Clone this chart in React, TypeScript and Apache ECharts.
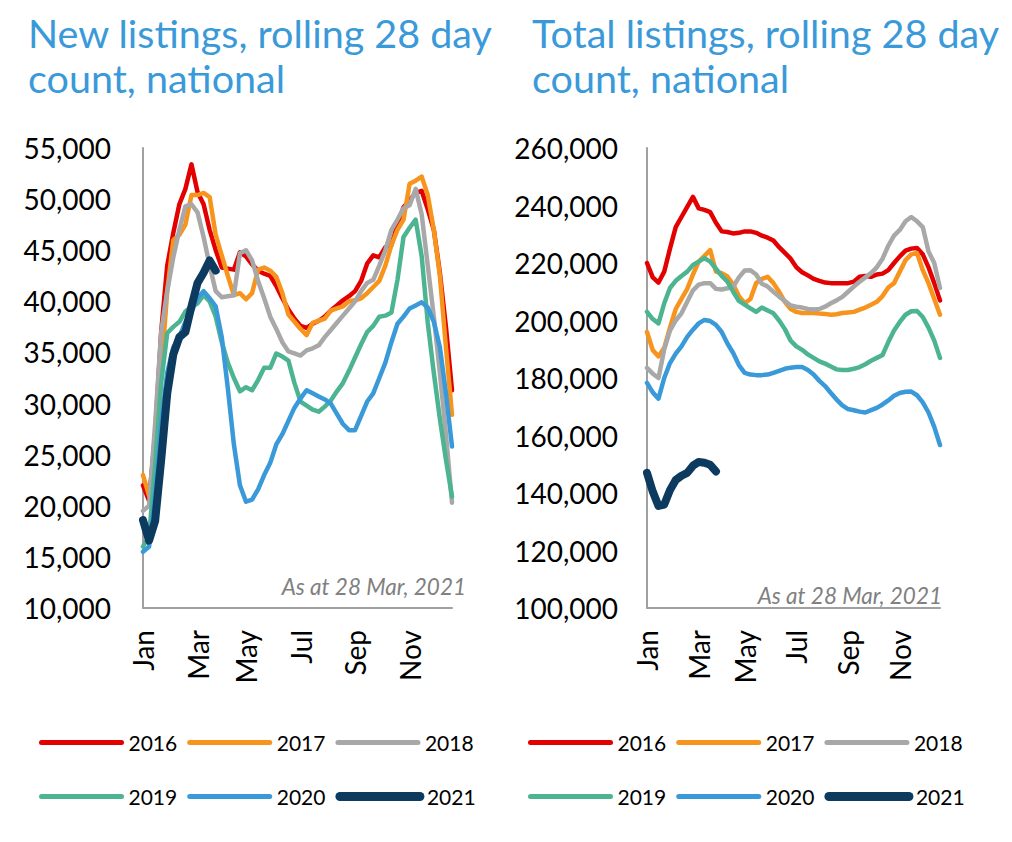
import React, { useEffect, useRef } from "react";
import * as echarts from "echarts";

const years = ["2016", "2017", "2018", "2019", "2020", "2021"];
const colors = ["#E30000", "#F7941D", "#A8A8A8", "#4DB492", "#3A9AD9", "#0D3A5F"];

const weeks = Array.from({ length: 52 }, (_, i) => `W${i + 1}`);
const monthLabels = ["Jan", "Mar", "May", "Jul", "Sep", "Nov"];
const monthTickWeeks = [0, 9, 17, 26, 35, 44];

// New listings, rolling 28 day count (weekly)
const newL2016 = [22000, 20500, 27000, 37000, 43500, 46700, 49500, 51000, 53400, 50700, 49500, 47000, 45000, 43300, 43200, 43100, 44800, 44400, 43600, 43000, 42700, 42500, 41500, 40300, 39200, 38300, 37600, 37400, 37800, 38100, 38500, 39100, 39600, 40100, 40500, 41000, 42000, 43700, 44500, 44300, 45300, 45500, 47500, 49200, 49900, 50600, 50800, 49000, 47000, 42800, 37500, 31300];
const newL2017 = [23000, 21000, 24500, 33000, 41000, 46000, 46500, 47500, 50400, 50400, 50600, 50200, 46500, 44500, 42500, 40600, 40800, 40200, 40800, 43100, 43300, 43000, 42400, 40800, 38700, 38000, 37300, 36700, 37900, 38100, 38300, 39100, 39300, 39500, 40000, 40100, 40300, 40800, 41400, 42000, 43500, 45500, 47000, 48000, 51500, 51800, 52200, 50400, 47000, 42500, 35500, 28900];
const newL2018 = [19500, 20000, 28000, 37000, 41000, 44300, 47000, 49300, 49500, 48700, 46300, 43500, 41000, 40400, 40500, 40600, 44700, 45000, 44000, 42000, 40300, 38500, 37300, 36000, 35100, 34900, 34700, 35200, 35400, 35700, 36500, 37200, 37900, 38600, 39300, 40000, 41000, 41800, 42100, 43500, 45000, 47000, 48000, 49100, 49400, 51000, 48500, 43500, 38500, 33000, 27000, 20300];
const newL2019 = [16000, 17000, 24000, 32000, 36900, 37500, 38000, 39000, 39500, 39800, 40600, 40000, 38500, 36000, 34000, 32500, 31200, 31600, 31300, 32300, 33500, 33500, 34900, 34600, 34200, 32000, 30200, 29800, 29400, 29200, 29700, 30300, 31200, 32000, 33200, 34500, 35800, 37000, 37600, 38500, 38600, 38900, 42100, 46300, 47200, 48000, 44400, 37900, 33000, 28500, 24500, 20900];
const newL2020 = [15500, 16000, 21000, 28000, 33000, 35500, 36500, 38000, 39000, 40300, 41000, 40300, 39500, 36500, 31500, 26000, 22000, 20400, 20600, 21600, 23000, 24200, 26000, 27000, 28300, 29600, 30500, 31300, 31000, 30700, 30400, 30000, 29000, 28000, 27400, 27400, 28800, 30200, 31000, 32500, 34000, 36000, 37800, 38500, 39300, 39600, 39900, 39400, 38000, 35500, 31000, 25800];
const newL2021 = [18600, 16600, 18500, 24500, 31000, 34800, 36500, 37000, 39500, 41800, 42800, 44000, 43000];

// Total listings, rolling 28 day count (weekly)
const totL2016 = [220000, 215000, 213200, 217000, 225000, 232500, 236000, 239500, 243000, 239000, 238500, 237700, 234000, 231000, 230800, 230300, 230500, 231000, 231000, 230500, 229500, 228800, 227800, 225500, 223500, 221500, 218500, 216800, 215700, 214500, 213800, 213200, 213000, 213000, 213000, 213000, 213500, 215200, 215500, 215200, 216000, 216300, 217500, 220000, 222300, 224300, 225000, 225200, 223000, 218500, 213000, 207000];
const totL2017 = [196000, 189700, 187500, 190500, 197500, 204000, 207500, 211000, 216000, 220500, 222500, 224500, 217000, 216500, 215300, 212500, 208500, 206000, 207500, 213000, 214500, 215200, 213000, 210000, 206500, 204000, 203000, 202600, 202600, 202600, 202400, 202300, 202000, 202200, 202600, 202800, 203000, 203800, 204500, 205500, 206500, 208500, 211500, 213000, 217000, 221000, 223000, 223500, 217500, 213000, 207500, 202000];
const totL2018 = [183500, 181500, 180000, 190000, 196500, 200000, 202500, 206500, 210500, 212500, 213000, 213000, 211000, 210800, 211200, 211700, 215000, 217400, 217500, 216000, 212800, 211800, 210000, 208300, 206800, 205200, 204800, 204500, 204000, 203800, 204000, 204800, 206000, 207000, 208200, 210000, 211800, 213500, 215000, 216500, 218500, 221500, 226000, 229500, 231500, 234500, 236000, 234500, 232500, 224000, 220000, 211300];
const totL2019 = [203000, 200500, 199000, 206000, 211300, 213800, 215500, 217000, 219300, 220500, 221700, 220500, 218000, 215500, 213500, 210000, 206800, 205500, 204200, 203000, 204500, 203500, 202500, 200000, 197000, 193000, 191000, 189800, 188200, 187000, 185800, 185000, 184000, 183000, 182800, 182800, 183200, 183800, 184800, 186000, 187000, 188000, 192500, 196500, 199500, 202000, 203200, 203300, 201200, 197500, 193000, 187000];
const totL2020 = [178300, 175000, 172800, 180000, 185200, 188500, 191000, 194300, 196800, 199000, 200200, 199800, 198500, 196000, 192000, 188700, 184500, 181800, 181200, 181000, 181000, 181200, 181800, 182500, 183200, 183600, 183800, 183800, 182800, 181200, 179000, 177200, 174800, 172500, 170500, 169200, 168800, 168300, 168000, 168800, 169600, 170800, 172200, 173800, 174800, 175200, 175300, 174000, 171500, 168000, 163000, 156700];
const totL2021 = [147000, 140500, 135500, 136000, 141000, 144500, 146000, 147000, 149500, 150800, 150500, 149800, 147500];

const newSeriesData = [newL2016, newL2017, newL2018, newL2019, newL2020, newL2021];
const totSeriesData = [totL2016, totL2017, totL2018, totL2019, totL2020, totL2021];

const titleLeft = "New listings, rolling 28 day\ncount, national";
const titleRight = "Total listings, rolling 28 day\ncount, national";
const asAtText = "As at 28 Mar, 2021";

const FONT = "Lato, 'Noto Sans', sans-serif";

export default function App() {
  const ref = useRef<HTMLDivElement>(null);

  useEffect(() => {
    if (!ref.current) return;
    const chart = echarts.init(ref.current, undefined, { renderer: "svg" });

    const fmt = (v: number) => v.toLocaleString("en-US");
    const xAxisCommon = {
      type: "category",
      data: weeks,
      boundaryGap: false,
      axisLine: { show: true, lineStyle: { color: "#A0A0A0", width: 2 } },
      axisTick: { show: false },
      splitLine: { show: false },
      axisLabel: {
        rotate: 90,
        margin: 22,
        fontSize: 28,
        fontFamily: FONT,
        color: "#000",
        interval: (index: number) => monthTickWeeks.includes(index),
        formatter: (_v: string, index: number) => {
          const k = monthTickWeeks.indexOf(index);
          return k >= 0 ? monthLabels[k] : "";
        },
      },
    };
    const yAxisCommon = {
      type: "value",
      axisLine: { show: true, lineStyle: { color: "#A0A0A0", width: 2 } },
      axisTick: { show: false },
      splitLine: { show: false },
      axisLabel: { fontSize: 28, fontFamily: FONT, color: "#000", formatter: fmt },
    };

    const lineWidth = (k: number) => (k === 5 ? 8 : 4.5);

    const mkSeries = (dataSets: number[][], axisIndex: number) =>
      dataSets.map((d, k) => ({
        name: years[k],
        type: "line",
        xAxisIndex: axisIndex,
        yAxisIndex: axisIndex,
        data: d,
        symbol: "none",
        showSymbol: false,
        lineStyle: { color: colors[k], width: lineWidth(k), cap: "round", join: "round" },
        itemStyle: { color: colors[k] },
        z: 2 + k,
      }));

    const legendItems = (from: number, to: number) =>
      years.slice(from, to).map((name, j) => {
        const k = from + j;
        return {
          name,
          lineStyle: { width: k === 5 ? 9 : 5, color: colors[k], cap: "round" },
        };
      });

    const legendCommon = {
      orient: "horizontal",
      itemWidth: 80,
      itemHeight: 14,
      itemGap: 10,
      itemStyle: { opacity: 0 },
      textStyle: { fontSize: 21, fontFamily: FONT, color: "#000", padding: [0, 0, 0, 2] },
      selectedMode: false,
    };

    const titleStyle = { fontSize: 39.5, fontWeight: "normal", fontFamily: FONT, color: "#3A9AD9", lineHeight: 45 };

    chart.setOption({
      animation: false,
      backgroundColor: "#fff",
      color: colors,
      title: [
        { text: titleLeft, left: 23, top: 5, textStyle: titleStyle },
        { text: titleRight, left: 527, top: 5, textStyle: titleStyle },
      ],
      grid: [
        { left: 143, top: 148, width: 309, height: 460, containLabel: false },
        { left: 647, top: 148, width: 293, height: 460, containLabel: false },
      ],
      xAxis: [
        { ...xAxisCommon, gridIndex: 0 },
        { ...xAxisCommon, gridIndex: 1 },
      ],
      yAxis: [
        { ...yAxisCommon, gridIndex: 0, min: 10000, max: 55000, interval: 5000, axisLabel: { ...yAxisCommon.axisLabel, margin: 32 } },
        { ...yAxisCommon, gridIndex: 1, min: 100000, max: 260000, interval: 20000, axisLabel: { ...yAxisCommon.axisLabel, margin: 29 } },
      ],
      legend: [
        { ...legendCommon, left: 34, top: 727, data: legendItems(0, 3) },
        { ...legendCommon, left: 34, top: 781, data: legendItems(3, 6) },
        { ...legendCommon, left: 523, top: 727, data: legendItems(0, 3) },
        { ...legendCommon, left: 523, top: 781, data: legendItems(3, 6) },
      ],
      graphic: [
        {
          type: "text",
          x: 466,
          y: 586,
          style: { text: asAtText, fill: "#808080", font: `italic 22.5px ${FONT}`, align: "right", verticalAlign: "middle" },
        },
        {
          type: "text",
          x: 942,
          y: 595,
          style: { text: asAtText, fill: "#808080", font: `italic 22.5px ${FONT}`, align: "right", verticalAlign: "middle" },
        },
      ],
      series: [...mkSeries(newSeriesData, 0), ...mkSeries(totSeriesData, 1)],
    });

    return () => chart.dispose();
  }, []);

  return (
    <div
      ref={ref}
      style={{ position: "fixed", left: 0, top: 0, width: 1012, height: 842, background: "#fff" }}
    />
  );
}
